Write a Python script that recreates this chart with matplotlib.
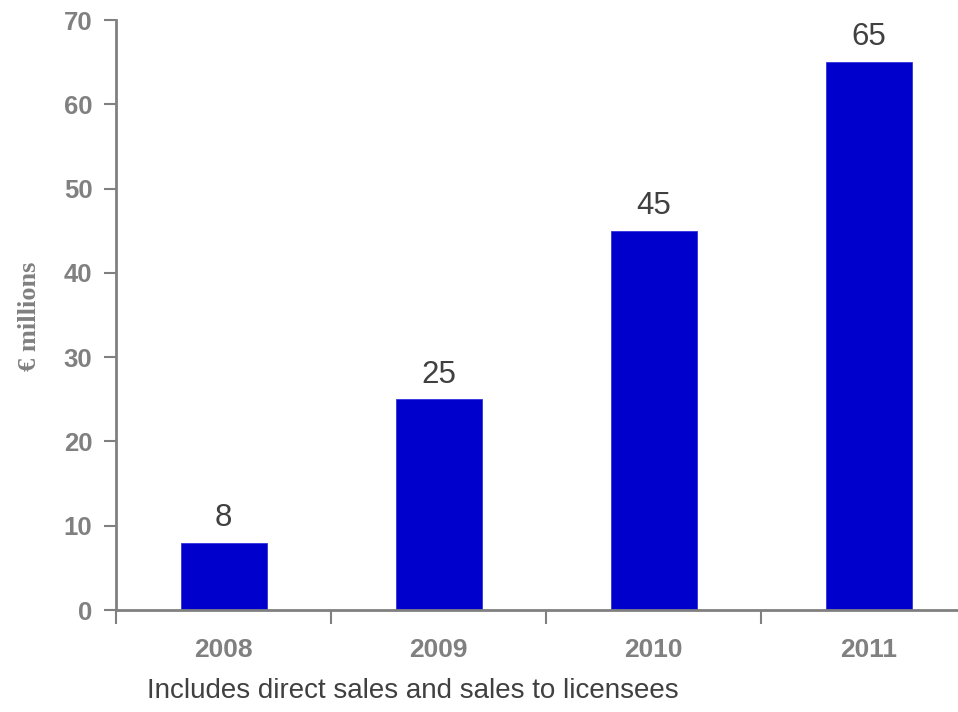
import matplotlib
matplotlib.use("Agg")
import matplotlib.pyplot as plt

years = ["2008", "2009", "2010", "2011"]
sales = [8, 25, 45, 65]
y_ticks = [0, 10, 20, 30, 40, 50, 60, 70]

W, H = 958, 712
fig = plt.figure(figsize=(W / 100, H / 100), dpi=100)
left, right, top, bottom = 116, 958, 20, 610
ax = fig.add_axes([left / W, (H - bottom) / H, (right - left) / W, (bottom - top) / H])

cat_w = 215.0
x = list(range(len(years)))
ax.bar(x, sales, width=0.4, color="#0000CC", edgecolor="#3333DD", linewidth=0.6, zorder=2)

for xi, v in zip(x, sales):
    ax.annotate(str(v), (xi, v), xytext=(0, 12), textcoords="offset points",
                ha="center", va="baseline", fontsize=22.5, color="#404040",
                family="Liberation Sans")

ax.set_xlim(-0.5, -0.5 + (right - left) / cat_w)
ax.set_ylim(0, 70)

grey = "#808080"
for s in ("top", "right"):
    ax.spines[s].set_visible(False)
for s in ("left", "bottom"):
    ax.spines[s].set_color(grey)
    ax.spines[s].set_linewidth(2)

ax.set_yticks(y_ticks)
ax.set_yticklabels([str(t) for t in y_ticks])
ax.tick_params(axis="y", direction="out", length=9, width=1.5, color=grey,
               labelcolor=grey, labelsize=18.5, pad=8)
for lbl in ax.get_yticklabels():
    lbl.set_fontweight("bold")
    lbl.set_family("Liberation Sans")

# separators between categories, labels centred under each bar
ax.set_xticks([i - 0.5 for i in range(len(years))])
ax.set_xticklabels([])
ax.tick_params(axis="x", direction="out", length=10, width=1.5, color=grey)
ax.set_xticks(x, minor=True)
ax.set_xticklabels(years, minor=True)
ax.tick_params(axis="x", which="minor", length=0, labelcolor=grey, labelsize=19, pad=20)
for lbl in ax.get_xticklabels(minor=True):
    lbl.set_fontweight("bold")
    lbl.set_family("Liberation Sans")

fig.text(30 / W, 1 - 316 / H, "€ millions", rotation=90, ha="center", va="center",
         fontsize=19, fontweight="bold", color=grey, family="Liberation Serif")

fig.text(147 / W, 1 - 691 / H, "Includes direct sales and sales to licensees",
         ha="left", va="center", fontsize=20, color="#404040", family="Liberation Sans")

fig.savefig("out.png", dpi=100)
